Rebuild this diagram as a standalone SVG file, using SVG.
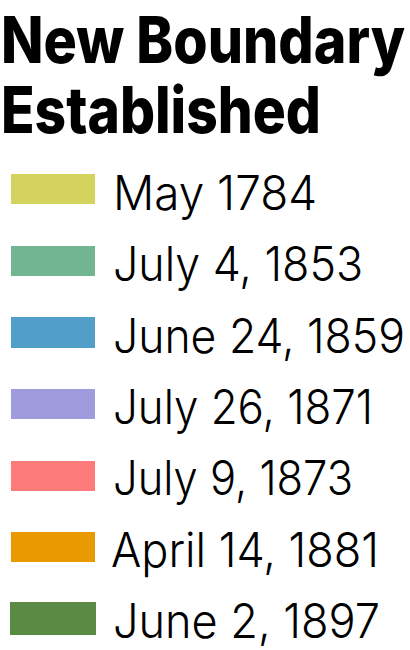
<svg xmlns="http://www.w3.org/2000/svg" width="410" height="650" viewBox="0 0 410 650">
<style>
.title{font-family:"Inter","Noto Sans","Liberation Sans",sans-serif;font-weight:800;font-size:64px;fill:#000}
.lbl{font-family:"Inter","Lato","Noto Sans","Liberation Sans",sans-serif;font-weight:300;font-size:48px;fill:#000}
</style>
<rect width="410" height="650" fill="#fff"/>
<g id="title">
<text class="title" x="1" y="63" textLength="404" lengthAdjust="spacingAndGlyphs">New Boundary</text>
<text class="title" x="1" y="133" textLength="320" lengthAdjust="spacingAndGlyphs">Established</text>
</g>
<g id="item1"><rect x="11" y="174" width="84" height="30" fill="#d4d35e"/><text class="lbl" x="113" y="210" textLength="204" lengthAdjust="spacingAndGlyphs">May 1784</text></g>
<g id="item2"><rect x="11" y="246" width="84" height="30" fill="#72b592"/><text class="lbl" x="113" y="281" textLength="250" lengthAdjust="spacingAndGlyphs">July 4, 1853</text></g>
<g id="item3"><rect x="11" y="317" width="84" height="31" fill="#519fc8"/><text class="lbl" x="113" y="353" textLength="292" lengthAdjust="spacingAndGlyphs">June 24, 1859</text></g>
<g id="item4"><rect x="11" y="389" width="84" height="30" fill="#a09bdc"/><text class="lbl" x="113" y="424" textLength="260" lengthAdjust="spacingAndGlyphs">July 26, 1871</text></g>
<g id="item5"><rect x="11" y="461" width="84" height="30" fill="#fe7b7b"/><text class="lbl" x="113" y="495" textLength="240" lengthAdjust="spacingAndGlyphs">July 9, 1873</text></g>
<g id="item6"><rect x="11" y="532" width="84" height="30" fill="#e89a00"/><text class="lbl" x="111" y="567" textLength="268" lengthAdjust="spacingAndGlyphs">April 14, 1881</text></g>
<g id="item7"><rect x="10" y="602" width="86" height="33" fill="#5b8a44"/><text class="lbl" x="113" y="638" textLength="267" lengthAdjust="spacingAndGlyphs">June 2, 1897</text></g>
</svg>
